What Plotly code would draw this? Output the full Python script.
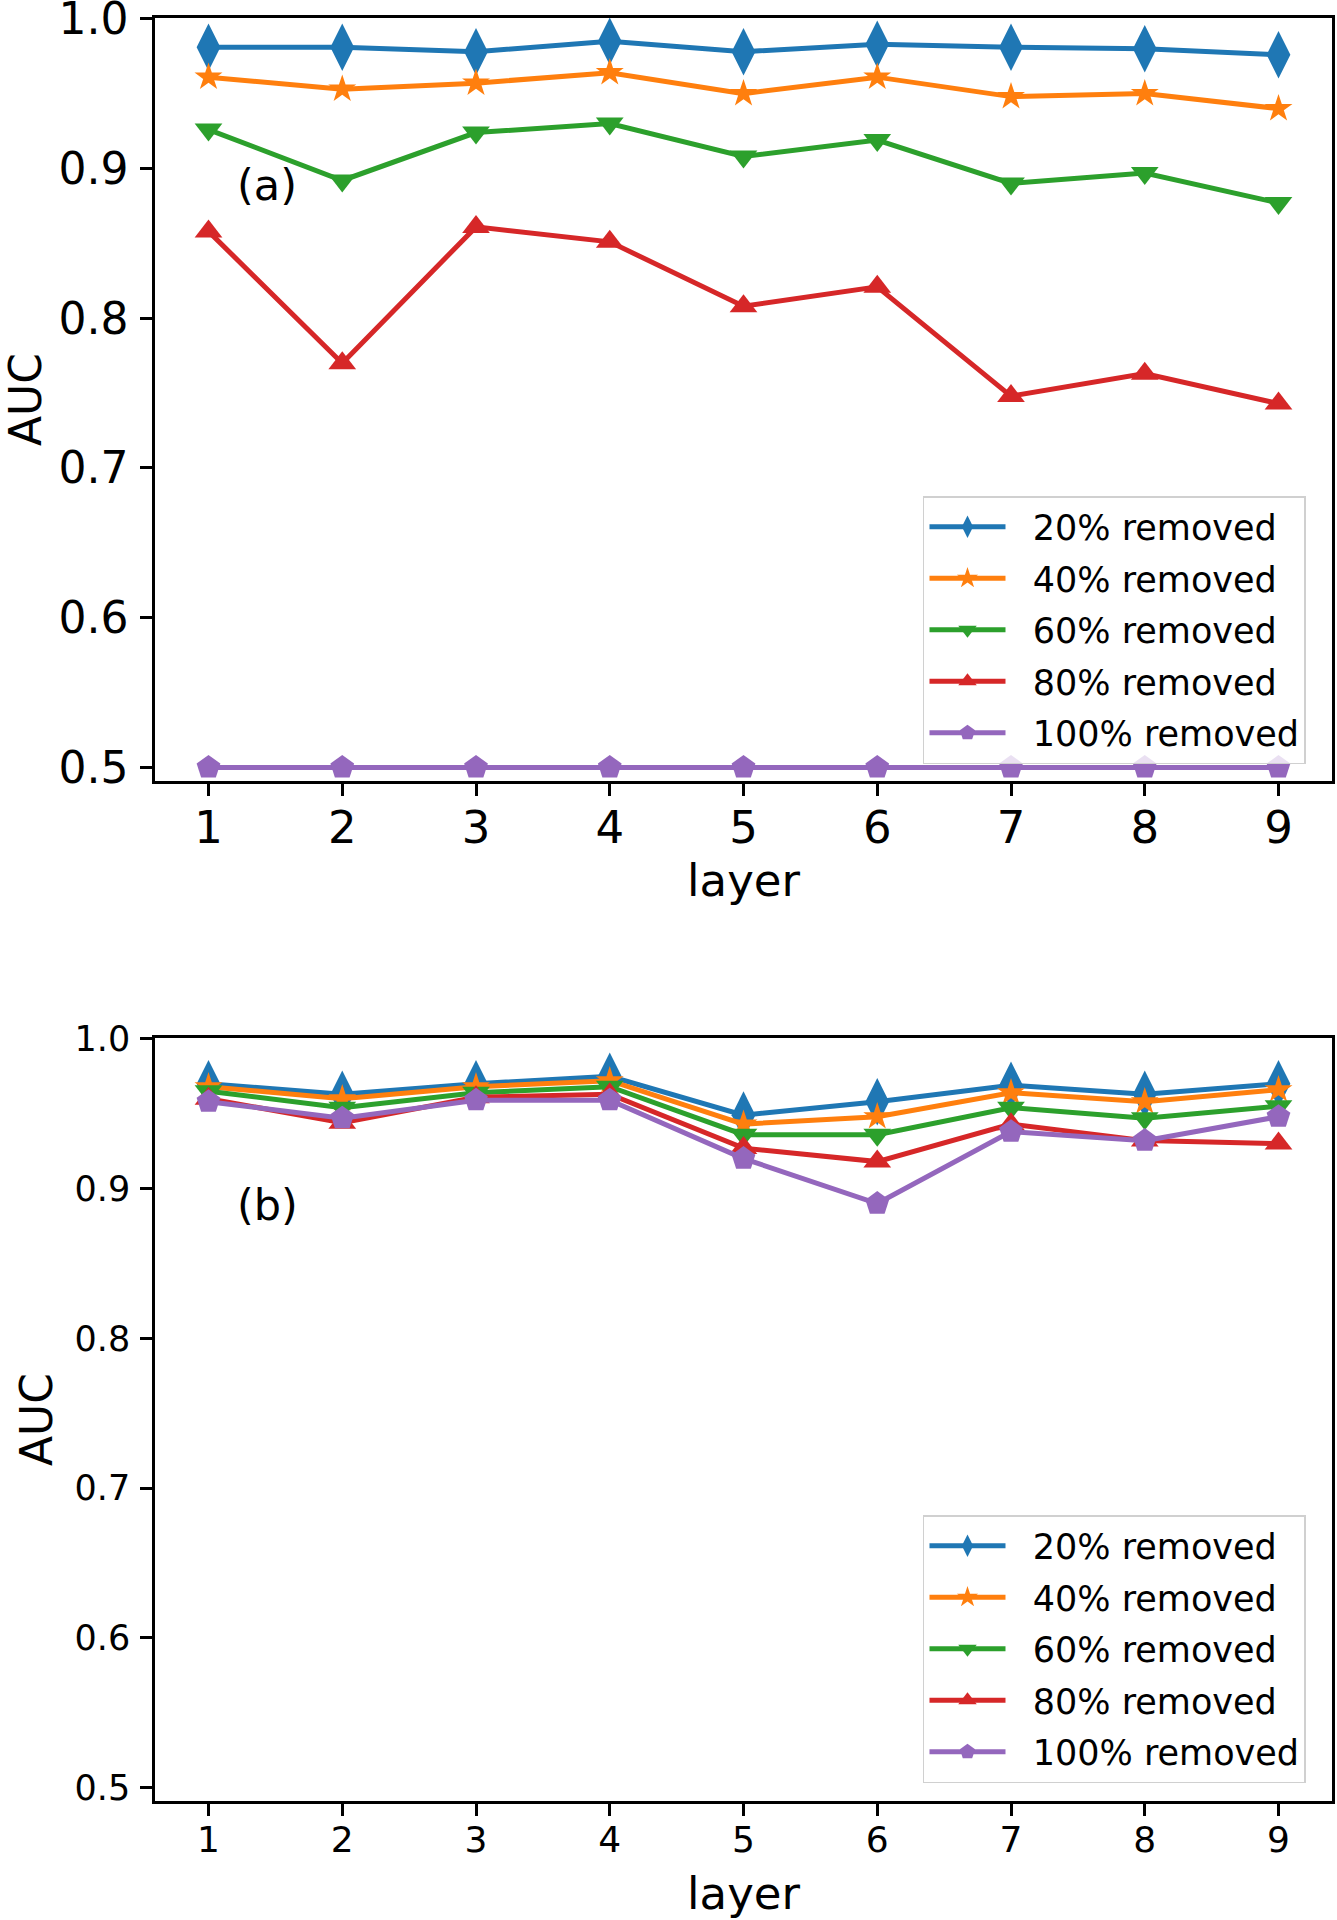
import plotly.graph_objects as go
from plotly.subplots import make_subplots

layers = [1, 2, 3, 4, 5, 6, 7, 8, 9]
series_names = ["20% removed", "40% removed", "60% removed", "80% removed", "100% removed"]

# panel (a)
a_20 = [0.981, 0.981, 0.978, 0.985, 0.978, 0.983, 0.981, 0.980, 0.976]
a_40 = [0.961, 0.953, 0.957, 0.964, 0.950, 0.961, 0.948, 0.950, 0.940]
a_60 = [0.926, 0.892, 0.924, 0.930, 0.908, 0.919, 0.890, 0.897, 0.877]
a_80 = [0.858, 0.770, 0.861, 0.851, 0.808, 0.821, 0.748, 0.763, 0.743]
a_100 = [0.500, 0.500, 0.500, 0.500, 0.500, 0.500, 0.500, 0.500, 0.500]

# panel (b)
b_20 = [0.970, 0.963, 0.970, 0.975, 0.949, 0.958, 0.969, 0.963, 0.970]
b_40 = [0.968, 0.960, 0.968, 0.972, 0.943, 0.948, 0.964, 0.958, 0.966]
b_60 = [0.965, 0.954, 0.964, 0.968, 0.936, 0.936, 0.954, 0.947, 0.955]
b_80 = [0.960, 0.944, 0.961, 0.963, 0.927, 0.918, 0.943, 0.932, 0.930]
b_100 = [0.958, 0.947, 0.959, 0.959, 0.920, 0.890, 0.938, 0.932, 0.948]

y_ticks = [0.5, 0.6, 0.7, 0.8, 0.9, 1.0]
y_ticklabels = ["0.5", "0.6", "0.7", "0.8", "0.9", "1.0"]

colors = ["#1f77b4", "#ff7f0e", "#2ca02c", "#d62728", "#9467bd"]
symbols = ["diamond-tall", "star", "triangle-down", "triangle-up", "pentagon"]
sizes = [34, 21, 24, 24, 25]

FONT = "DejaVu Sans"

W, H = 1337, 1920

fig = make_subplots(rows=2, cols=1, vertical_spacing=0.1442)
fig.update_layout(
    xaxis=dict(domain=[0, 1]), xaxis2=dict(domain=[0, 1]),
    yaxis=dict(domain=[0.5721, 1.0]), yaxis2=dict(domain=[0.0, 0.4279]),
)

panels = [
    (1, "a", [a_20, a_40, a_60, a_80, a_100], "legend"),
    (2, "b", [b_20, b_40, b_60, b_80, b_100], "legend2"),
]
for row, tag, data, leg in panels:
    for i, (name, vals, c, s, sz) in enumerate(zip(series_names, data, colors, symbols, sizes)):
        fig.add_trace(
            go.Scatter(
                x=layers, y=vals, name="\u00a0\u00a0" + name, mode="lines+markers",
                line=dict(color=c, width=5),
                marker=dict(symbol=s, size=sz, color=c, line=dict(width=0)),
                legend=leg, legendgroup=f"{tag}{i}", cliponaxis=False,
            ),
            row=row, col=1,
        )

axis_common = dict(
    showline=True, linecolor="black", linewidth=2.5, mirror=True,
    ticks="outside", ticklen=12, tickwidth=2.5, tickcolor="black",
    showgrid=False, zeroline=False, automargin=False,
    ticklabeloverflow="allow",
)

fig.update_xaxes(
    range=[0.6, 9.4], tickvals=layers, ticktext=[str(v) for v in layers],
    **axis_common,
)
fig.update_yaxes(
    range=[0.491, 1.0005], tickvals=y_ticks, ticktext=y_ticklabels,
    **axis_common,
)

fig.update_xaxes(tickfont=dict(family=FONT, size=45, color="black"), ticklabelstandoff=-7,
                 title=dict(text="layer", font=dict(family=FONT, size=45, color="black"), standoff=4),
                 row=1, col=1)
fig.update_yaxes(tickfont=dict(family=FONT, size=44, color="black"), ticklabelstandoff=3,
                 title=dict(text="AUC", font=dict(family=FONT, size=44, color="black"), standoff=28),
                 row=1, col=1)
fig.update_xaxes(tickfont=dict(family=FONT, size=36, color="black"), ticklabelstandoff=-7,
                 title=dict(text="layer", font=dict(family=FONT, size=45, color="black"), standoff=20),
                 row=2, col=1)
fig.update_yaxes(tickfont=dict(family=FONT, size=35, color="black"), ticklabelstandoff=3,
                 title=dict(text="AUC", font=dict(family=FONT, size=44, color="black"), standoff=9),
                 row=2, col=1)

legend_common = dict(
    xanchor="left", yanchor="top", x=0.6525,
    bgcolor="rgba(255,255,255,0.8)", bordercolor="#d0d0d0", borderwidth=1.5,
    font=dict(family=FONT, size=35, color="black"),
    itemwidth=76, tracegroupgap=3,
)
fig.update_layout(
    legend=dict(y=0.7319, **legend_common),
    legend2=dict(y=0.1604, **legend_common),
)

fig.add_annotation(x=1.44, y=0.889, xref="x", yref="y", text="(a)", showarrow=False,
                   font=dict(family=FONT, size=43, color="black"))
fig.add_annotation(x=1.44, y=0.889, xref="x2", yref="y2", text="(b)", showarrow=False,
                   font=dict(family=FONT, size=43, color="black"))

fig.update_layout(
    width=W, height=H,
    margin=dict(l=155, r=5, t=18, b=119),
    paper_bgcolor="white", plot_bgcolor="white",
    showlegend=True,
)

fig.write_html("out.html", config={"displayModeBar": False},
               post_script="document.body.style.margin='0';")
